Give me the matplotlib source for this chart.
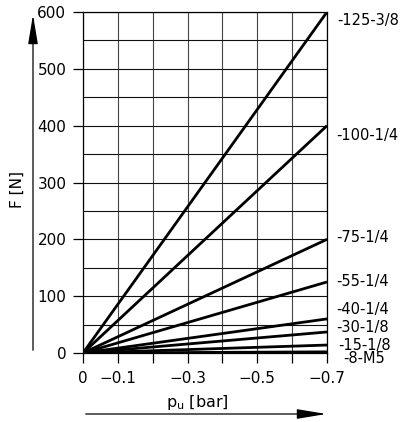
import numpy as np
import matplotlib as mpl
mpl.use("Agg")
import matplotlib.pyplot as plt

# cylinder sizes and force at -0.7 bar
labels = ['-125-3/8', '-100-1/4', '-75-1/4', '-55-1/4', '-40-1/4', '-30-1/8', '-15-1/8', '-8-M5']
force_end = [600, 400, 200, 125, 60, 37, 14, 2]
p_start = 0.0
p_end = -0.7

x_ticks = [0, -0.1, -0.2, -0.3, -0.4, -0.5, -0.6, -0.7]
x_ticklabels = ['0', '\u22120.1', '', '\u22120.3', '', '\u22120.5', '', '\u22120.7']
y_ticks = [0, 100, 200, 300, 400, 500, 600]
y_minor = [50, 150, 250, 350, 450, 550]

# label offsets in pixels (layout only)
label_dx = [10, 9, 9, 9, 9, 9, 11, 16]
label_dy = [-8, -10, 2, 0, 9, 4, 0, -7]

plt.rcParams['font.family'] = ['DejaVu Sans']
fig = plt.figure(figsize=(4.06, 4.22), dpi=100)
ax = fig.add_axes([83/406, 1-353/422, 244/406, 341/422])

for f in force_end:
    ax.plot([p_start, p_end], [0, f], color='black', lw=2, solid_capstyle='butt', zorder=3)

ax.set_xlim(0, -0.7)
ax.set_ylim(0, 600)
ax.set_xticks(x_ticks)
ax.set_xticklabels(x_ticklabels)
ax.set_yticks(y_ticks)
ax.set_yticks(y_minor, minor=True)
ax.grid(True, which='major', axis='x', color='#444444', lw=0.8)
ax.grid(True, which='both', axis='y', color='#111111', lw=0.8)
ax.tick_params(axis='both', which='major', length=7, width=0.9, labelsize=11, pad=5)
ax.tick_params(axis='x', which='major', pad=6)
ax.tick_params(axis='y', which='minor', length=0)
for s in ax.spines.values():
    s.set_linewidth(0.9)

for lab, f, dx, dy in zip(labels, force_end, label_dx, label_dy):
    ax.annotate(lab, xy=(p_end, f), xytext=(dx, dy), textcoords='offset pixels',
                ha='left', va='center', fontsize=10.5, annotation_clip=False)

# axis titles with arrows
fig.text(17/406, 1-190/422, 'F [N]', rotation=90, ha='center', va='center', fontsize=11)
fig.text(197/406, 1-403/422, r'p$_\mathrm{u}$ [bar]', ha='center', va='center', fontsize=11.5)
ax.annotate('', xy=(33, 422-12), xytext=(33, 422-353), xycoords='figure pixels',
            textcoords='figure pixels',
            arrowprops=dict(arrowstyle='-|>,head_length=1.8,head_width=0.3', color='black', lw=0.9))
ax.annotate('', xy=(329, 422-414), xytext=(83, 422-414), xycoords='figure pixels',
            textcoords='figure pixels',
            arrowprops=dict(arrowstyle='-|>,head_length=1.8,head_width=0.3', color='black', lw=0.9))

fig.savefig('out.png', dpi=100)
